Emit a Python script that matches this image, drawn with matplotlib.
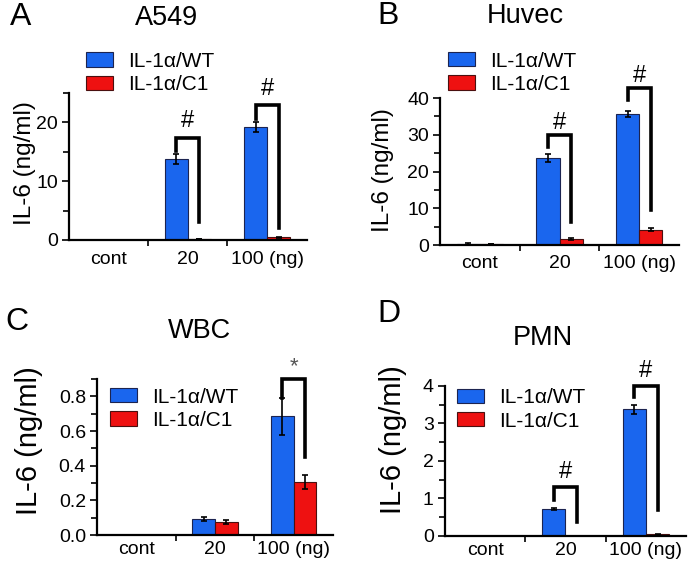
import numpy as np
import matplotlib.pyplot as plt
from matplotlib.ticker import MultipleLocator, FormatStrFormatter

plt.rcParams['font.family'] = ['Liberation Sans', 'DejaVu Sans']

groups = ["cont", "20", "100 (ng)"]
series_names = ["IL-1\u03b1/WT", "IL-1\u03b1/C1"]

a549_wt = [0, 13.8, 19.2]
a549_wt_err = [0, 0.8, 0.8]
a549_c1 = [0, 0.2, 0.45]
a549_c1_err = [0, 0.05, 0.05]

huvec_wt = [0.3, 23.7, 35.7]
huvec_wt_err = [0.2, 1.0, 0.8]
huvec_c1 = [0.3, 1.7, 4.1]
huvec_c1_err = [0.1, 0.3, 0.4]

wbc_wt = [0, 0.093, 0.684]
wbc_wt_err = [0, 0.01, 0.105]
wbc_c1 = [0, 0.075, 0.307]
wbc_c1_err = [0, 0.012, 0.04]

pmn_wt = [0, 0.72, 3.38]
pmn_wt_err = [0, 0.02, 0.12]
pmn_c1 = [0, 0.01, 0.04]
pmn_c1_err = [0, 0, 0.01]

# significance brackets: group, top, left leg end, right leg end, mark, mark y
a549_sig = [(1, 17.4, 15.2, 3.0, "#", 20.2), (2, 23.0, 20.6, 2.0, "#", 25.6)]
huvec_sig = [(1, 30.0, 26.7, 6.3, "#", 33.2), (2, 42.7, 39.5, 9.5, "#", 46.0)]
wbc_sig = [(2, 0.90, 0.79, 0.45, "*", 0.97)]
pmn_sig = [(1, 1.31, 0.96, 0.37, "#", 1.70), (2, 4.0, 3.71, 0.69, "#", 4.40)]

blue = "#1a66ee"
red = "#ee1111"
w = 0.29

fig = plt.figure(figsize=(6.93, 5.62), dpi=100)

panels = [
    # rect, wt, wt_err, c1, c1_err, sig, ylim, major, minor, fmt, legend anchor, xpad
    ([0.0996, 0.573, 0.343, 0.2616], a549_wt, a549_wt_err, a549_c1, a549_c1_err,
     a549_sig, 25, 10, 5, "%d", (0.071, 1.28), 8),
    ([0.635, 0.564, 0.345, 0.2616], huvec_wt, huvec_wt_err, huvec_c1, huvec_c1_err,
     huvec_sig, 40, 10, 5, "%d", (0.033, 1.316), 7),
    ([0.140, 0.048, 0.3405, 0.2776], wbc_wt, wbc_wt_err, wbc_c1, wbc_c1_err,
     wbc_sig, 0.9, 0.2, 0.1, "%.1f", (0.055, 0.945), 4),
    ([0.642, 0.0463, 0.348, 0.267], pmn_wt, pmn_wt_err, pmn_c1, pmn_c1_err,
     pmn_sig, 4, 1, 0.5, "%d", (0.05, 0.983), 4),
]

x = np.arange(len(groups))
for rect, wt, wt_err, c1, c1_err, sig, ytop, major, minor, fmt, anchor, xpad in panels:
    ax = fig.add_axes(rect)
    ax.bar(x - w / 2, wt, w, color=blue, edgecolor="#1c2450", linewidth=0.8,
           label=series_names[0])
    ax.bar(x + w / 2, c1, w, color=red, edgecolor="#4a1010", linewidth=0.8,
           label=series_names[1])
    for xs, vals, errs in [(x - w / 2, wt, wt_err), (x + w / 2, c1, c1_err)]:
        keep = [i for i in range(len(vals)) if vals[i] > 0]
        ax.errorbar(xs[keep], np.array(vals)[keep], yerr=np.array(errs)[keep],
                    fmt="none", ecolor="black", elinewidth=1.2, capsize=2.5,
                    capthick=1.2)
    for g, top, yl, yr, mark, my in sig:
        ax.plot([g - w / 2, g - w / 2, g + w / 2, g + w / 2], [yl, top, top, yr],
                color="black", linewidth=2.6, clip_on=False,
                solid_joinstyle="miter")
        if mark == "*":
            ax.text(g, my, mark, ha="center", va="center", fontsize=16,
                    color="#555555", clip_on=False)
        else:
            ax.text(g, my, mark, ha="center", va="center", fontsize=17,
                    clip_on=False)

    ax.set_xlim(-0.5, 2.5)
    ax.set_ylim(0, ytop)
    ax.yaxis.set_major_locator(MultipleLocator(major))
    ax.yaxis.set_minor_locator(MultipleLocator(minor))
    ax.yaxis.set_major_formatter(FormatStrFormatter(fmt))
    ax.set_xticks(x)
    ax.set_xticklabels(groups)
    ax.set_xticks([0.5, 1.5], minor=True)
    ax.tick_params(axis="x", which="major", length=0, pad=xpad, labelsize=14)
    ax.tick_params(axis="x", which="minor", length=4, width=1.2, direction="out")
    ax.tick_params(axis="y", which="major", length=5, width=1.2, pad=3, labelsize=14)
    ax.tick_params(axis="y", which="minor", length=4, width=1.2)
    for s in ["top", "right"]:
        ax.spines[s].set_visible(False)
    for s in ["left", "bottom"]:
        ax.spines[s].set_linewidth(1.6)
    ax.legend(loc="upper left", bbox_to_anchor=anchor, frameon=False, fontsize=15,
              handlelength=1.3, handleheight=0.67, handletextpad=0.72,
              labelspacing=0.2, borderpad=0, borderaxespad=0)

W, H = 693, 562
def ftext(px, py, s, va="center", **kw):
    fig.text(px / W, 1 - py / H, s, ha="center", va=va, **kw)

ftext(21, 25, "A", va="baseline", fontsize=23)
ftext(388, 24, "B", va="baseline", fontsize=23)
ftext(17, 330, "C", va="baseline", fontsize=23)
ftext(389, 322, "D", va="baseline", fontsize=23)

ftext(167, 18, "A549", fontsize=19.5)
ftext(525, 16, "Huvec", fontsize=19.5)
ftext(199, 331, "WBC", fontsize=19.5)
ftext(543, 338, "PMN", fontsize=19.5)

ftext(25, 163, "IL-6 (ng/ml)", fontsize=17.5, rotation=90)
ftext(383, 170, "IL-6 (ng/ml)", fontsize=17.5, rotation=90)
ftext(29, 441, "IL-6 (ng/ml)", fontsize=21, rotation=90)
ftext(393, 440, "IL-6 (ng/ml)", fontsize=21, rotation=90)

fig.savefig("out.png", dpi=100)
